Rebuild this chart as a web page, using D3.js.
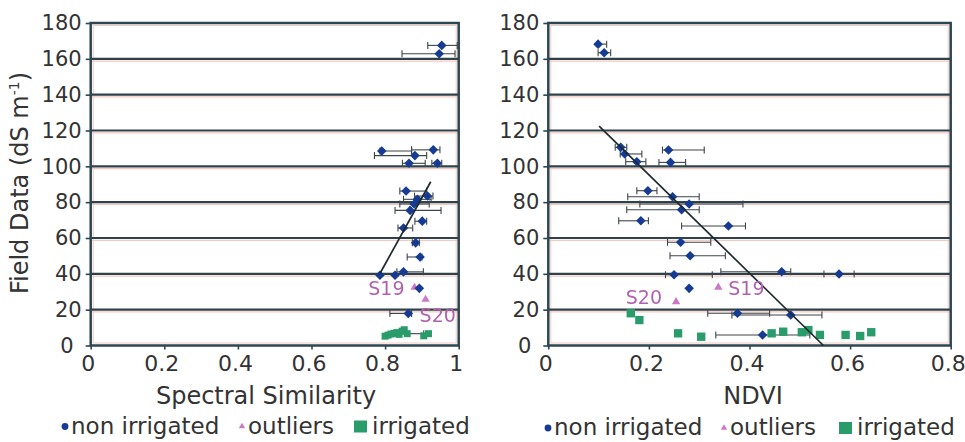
<!DOCTYPE html>
<html>
<head>
<meta charset="utf-8">
<script src="https://cdn.jsdelivr.net/npm/d3@7/dist/d3.min.js"></script>
<style>
  html, body { margin: 0; padding: 0; background: #ffffff; }
  svg { display: block; }
  text { font-family: "DejaVu Sans", Verdana, sans-serif; }
</style>
</head>
<body>
<svg id="chart" width="965" height="442"></svg>
<script>
// Field salinity against two remote-sensing indices.
// Each sample: [index value, field value, error-bar low, error-bar high]
const fieldTicks = [0, 20, 40, 60, 80, 100, 120, 140, 160, 180];
const spectralTicks = [0, 0.2, 0.4, 0.6, 0.8, 1];
const ndviTicks = [0, 0.2, 0.4, 0.6, 0.8];

const spectralNonIrrigated = [
  [0.954, 167.5, 0.916, 0.996],
  [0.947, 162.8, 0.846, 0.990],
  [0.791, 108.6, 0.786, 0.872],
  [0.881, 106.0, 0.771, 0.913],
  [0.931, 109.2, 0.872, 0.949],
  [0.865, 101.7, 0.847, 0.909],
  [0.942, 101.7, 0.927, 0.954],
  [0.857, 86.2, 0.840, 0.913],
  [0.915, 83.4, 0.880, 0.930],
  [0.888, 81.6, 0.850, 0.925],
  [0.879, 79.0, 0.840, 0.920],
  [0.868, 75.4, 0.827, 0.952],
  [0.901, 69.4, 0.881, 0.913],
  [0.850, 65.6, 0.835, 0.875],
  [0.883, 57.3, 0.874, 0.893],
  [0.895, 49.4, 0.860, 0.900],
  [0.786, 39.2, null, null],
  [0.827, 39.2, null, null],
  [0.850, 41.1, 0.832, 0.904],
  [0.893, 31.9, null, null],
  [0.863, 17.9, 0.813, 0.872]
];
const spectralIrrigated = [
  [0.800, 5.2, null, null],
  [0.808, 5.8, null, null],
  [0.816, 6.4, null, null],
  [0.824, 6.8, null, null],
  [0.832, 7.2, null, null],
  [0.838, 6.2, null, null],
  [0.846, 8.0, null, null],
  [0.852, 8.8, null, null],
  [0.860, 6.6, 0.840, 0.905],
  [0.905, 5.4, null, null],
  [0.918, 6.6, null, null]
];
const spectralOutliers = [
  ["S19", 0.880, 32.4],
  ["S20", 0.910, 25.7]
];
const spectralTrend = [[0.786, 40.2], [0.924, 91.4]];

const ndviNonIrrigated = [
  [0.099, 168.2, 0.099, 0.116],
  [0.111, 163.4, 0.099, 0.124],
  [0.144, 110.6, 0.133, 0.156],
  [0.152, 106.9, 0.143, 0.186],
  [0.176, 102.6, 0.154, 0.194],
  [0.239, 109.1, 0.227, 0.310],
  [0.243, 102.2, 0.220, 0.273],
  [0.198, 86.4, 0.176, 0.216],
  [0.247, 83.0, 0.158, 0.300],
  [0.280, 79.0, 0.182, 0.387],
  [0.265, 75.8, 0.156, 0.300],
  [0.184, 69.6, 0.140, 0.199],
  [0.358, 66.7, 0.265, 0.392],
  [0.263, 57.6, 0.237, 0.323],
  [0.282, 50.1, 0.242, 0.352],
  [0.250, 39.5, 0.233, 0.326],
  [0.464, 41.2, 0.343, 0.482],
  [0.578, 39.9, 0.548, 0.608],
  [0.280, 31.9, null, null],
  [0.376, 18.0, 0.317, 0.440],
  [0.482, 17.0, 0.365, 0.544],
  [0.426, 5.9, 0.333, 0.520]
];
const ndviIrrigated = [
  [0.164, 18.0], [0.181, 14.2], [0.258, 6.8], [0.304, 4.9],
  [0.444, 6.8], [0.467, 7.7], [0.504, 7.4], [0.517, 8.6],
  [0.540, 5.9], [0.591, 5.9], [0.620, 5.3], [0.642, 7.4]
];
const ndviOutliers = [
  ["S19", 0.338, 32.5],
  ["S20", 0.254, 24.4]
];
const ndviTrend = [[0.101, 122.5], [0.547, 0]];

const legendItems = ["non irrigated", "outliers", "irrigated"];
const yTitle = "Field Data (dS m";

// ---- styling ----
const C = {
  frame: "#2c4751",
  grid: "#2f4249",
  pink: "#f3c9bf",
  navy: "#183b93",
  orchid: "#cc78c8",
  labelPink: "#b062ae",
  green: "#2a9c6c",
  bar: "#3d4448"
};

const svg = d3.select("#chart");
const defs = svg.append("defs");
defs.append("filter").attr("id", "soft")
  .append("feGaussianBlur").attr("stdDeviation", 0.45);

function drawPanel(cfg) {
  const x = d3.scaleLinear().domain(cfg.xDomain).range(cfg.xRange);
  const y = d3.scaleLinear().domain([0, 180]).range([345.5, 23]);
  const g = svg.append("g");

  // plot area
  g.append("rect")
    .attr("x", x.range()[0]).attr("y", y(180))
    .attr("width", x.range()[1] - x.range()[0])
    .attr("height", y(0) - y(180))
    .attr("fill", "#ffffff");

  // faint inner pink edges
  g.append("rect")
    .attr("x", x.range()[0] + 2.5).attr("y", y(180) + 2.5)
    .attr("width", x.range()[1] - x.range()[0] - 5)
    .attr("height", y(0) - y(180) - 5)
    .attr("fill", "none").attr("stroke", C.pink).attr("stroke-width", 1);

  const inner = fieldTicks.filter(t => t > 0 && t < 180);
  g.selectAll(".pinkline").data(inner).enter().append("line")
    .attr("x1", x.range()[0]).attr("x2", x.range()[1])
    .attr("y1", d => y(d) + 2.3).attr("y2", d => y(d) + 2.3)
    .attr("stroke", C.pink).attr("stroke-width", 1.2);
  g.selectAll(".gridline").data(inner).enter().append("line")
    .attr("x1", x.range()[0]).attr("x2", x.range()[1])
    .attr("y1", d => y(d)).attr("y2", d => y(d))
    .attr("stroke", C.grid).attr("stroke-width", 2.1);

  // axes
  const yAxis = g.append("g")
    .attr("transform", `translate(${x.range()[0]},0)`)
    .call(d3.axisLeft(y).tickValues(fieldTicks).tickSize(5).tickPadding(4)
      .tickFormat(d3.format("~g")));
  yAxis.select(".domain").remove();
  yAxis.selectAll("line").attr("stroke", C.frame).attr("stroke-width", 1.6);
  yAxis.selectAll("text")
    .attr("fill", "#333").style("font-size", "21px")
    .attr("dx", d => d === 0 ? -8 : 0);

  const xAxis = g.append("g")
    .attr("transform", `translate(0,${y(0)})`)
    .call(d3.axisBottom(x).tickValues(cfg.xTicks).tickSize(4).tickPadding(6)
      .tickFormat(d3.format("~g")));
  xAxis.select(".domain").remove();
  xAxis.selectAll("line").attr("stroke", C.frame).attr("stroke-width", 1.6);
  xAxis.selectAll("text")
    .attr("fill", "#333").style("font-size", "22px").attr("dx", -3);

  // frame
  g.append("rect")
    .attr("x", x.range()[0]).attr("y", y(180))
    .attr("width", x.range()[1] - x.range()[0])
    .attr("height", y(0) - y(180))
    .attr("fill", "none").attr("stroke", C.frame).attr("stroke-width", 2.5);

  const marks = g.append("g").attr("filter", "url(#soft)");

  // error bars
  const withBars = cfg.nonIrrigated.concat(cfg.irrigated).filter(d => d[2] != null);
  const bars = marks.append("g").attr("stroke", C.bar).attr("stroke-width", 1.1);
  withBars.forEach(d => {
    const yy = y(d[1]);
    bars.append("line").attr("x1", x(d[2])).attr("x2", x(d[3]))
      .attr("y1", yy).attr("y2", yy);
    [d[2], d[3]].forEach(v => {
      bars.append("line").attr("x1", x(v)).attr("x2", x(v))
        .attr("y1", yy - 3.5).attr("y2", yy + 3.5);
    });
  });

  // irrigated squares
  marks.selectAll(".irr").data(cfg.irrigated).enter().append("path")
    .attr("d", d3.symbol(d3.symbolSquare, cfg.squareSize)())
    .attr("transform", d => `translate(${x(d[0])},${y(d[1])})`)
    .attr("fill", C.green);

  // outliers
  marks.selectAll(".out").data(cfg.outliers).enter().append("path")
    .attr("d", d3.symbol(d3.symbolTriangle, 30)())
    .attr("transform", d => `translate(${x(d[1])},${y(d[2])})`)
    .attr("fill", C.orchid);

  // non irrigated diamonds
  marks.selectAll(".non").data(cfg.nonIrrigated).enter().append("path")
    .attr("d", d3.symbol(d3.symbolSquare, 46)())
    .attr("transform", d => `translate(${x(d[0])},${y(d[1])}) rotate(45)`)
    .attr("fill", C.navy);

  // regression line
  g.append("path")
    .datum(cfg.trend)
    .attr("d", d3.line().x(d => x(d[0])).y(d => y(d[1])))
    .attr("stroke", "#1d2a2e").attr("stroke-width", 1.7).attr("fill", "none");

  // outlier labels
  cfg.outliers.forEach(d => {
    const off = cfg.labelOffsets[d[0]];
    g.append("text")
      .attr("x", x(d[1]) + off.dx).attr("y", y(d[2]) + off.dy)
      .attr("text-anchor", off.anchor)
      .attr("fill", C.labelPink).style("font-size", "19px")
      .attr("filter", "url(#soft)")
      .text(d[0]);
  });

  // axis title
  g.append("text")
    .attr("x", cfg.titleX).attr("y", 403.5)
    .attr("text-anchor", "middle")
    .attr("fill", "#333").style("font-size", "24px")
    .text(cfg.title);

  // legend
  const lg = g.append("g").attr("fill", "#333").style("font-size", "23px");
  const ly = cfg.legendY;
  lg.append("circle").attr("cx", cfg.legendX[0] - 6).attr("cy", ly - 7)
    .attr("r", 3.4).attr("fill", C.navy);
  lg.append("text").attr("x", cfg.legendX[0]).attr("y", ly).text(legendItems[0]);
  lg.append("path")
    .attr("d", d3.symbol(d3.symbolTriangle, 18)())
    .attr("transform", `translate(${cfg.legendX[1] - 6},${ly - 7})`)
    .attr("fill", C.orchid);
  lg.append("text").attr("x", cfg.legendX[1]).attr("y", ly).text(legendItems[1]);
  lg.append("rect").attr("x", cfg.legendX[2] - 18).attr("y", ly - 13)
    .attr("width", 13).attr("height", 12).attr("fill", C.green);
  lg.append("text").attr("x", cfg.legendX[2]).attr("y", ly).text(legendItems[2]);
}

drawPanel({
  xDomain: [0, 1], xRange: [90.7, 458.7], xTicks: spectralTicks,
  nonIrrigated: spectralNonIrrigated, irrigated: spectralIrrigated,
  outliers: spectralOutliers, trend: spectralTrend,
  squareSize: 49,
  labelOffsets: {
    S19: { dx: -10, dy: 8, anchor: "end" },
    S20: { dx: -6, dy: 23, anchor: "start" }
  },
  title: "Spectral Similarity", titleX: 266,
  legendX: [71, 248, 372], legendY: 433.5
});

drawPanel({
  xDomain: [0, 0.8], xRange: [548.3, 950.7], xTicks: ndviTicks,
  nonIrrigated: ndviNonIrrigated,
  irrigated: ndviIrrigated.map(d => [d[0], d[1], null, null]),
  outliers: ndviOutliers, trend: ndviTrend,
  squareSize: 70,
  labelOffsets: {
    S19: { dx: 10, dy: 8, anchor: "start" },
    S20: { dx: -14, dy: 2, anchor: "end" }
  },
  title: "NDVI", titleX: 753,
  legendX: [554, 730, 857], legendY: 435
});

// shared y title
const yt = svg.append("text")
  .attr("transform", "translate(28,183) rotate(-90)")
  .attr("text-anchor", "middle")
  .attr("fill", "#333").style("font-size", "24px");
yt.append("tspan").text(yTitle);
yt.append("tspan").attr("dy", -9).style("font-size", "14px").text("-1");
yt.append("tspan").attr("dy", 9).text(")");
</script>
</body>
</html>
